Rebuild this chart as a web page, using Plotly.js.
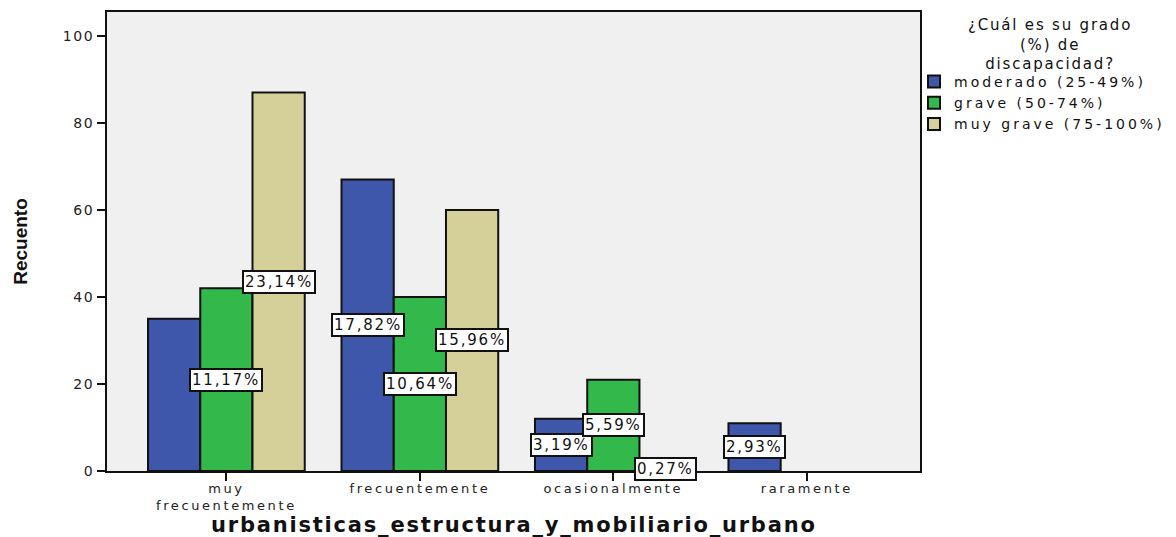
<!DOCTYPE html>
<html>
<head>
<meta charset="utf-8">
<script src="https://cdn.plot.ly/plotly-3.0.1.min.js"></script>
<style>
  html, body { margin: 0; padding: 0; background: #fff; }
  #chart { width: 1176px; height: 537px; }
  .xtick text { letter-spacing: 2.6px; }
  .ytick text { letter-spacing: 1.6px; }
  .legendtext { letter-spacing: 3px; }
  .annotation-text { letter-spacing: 1.8px; }
</style>
</head>
<body>
<div id="chart"></div>
<script>
const categories = ["muy frecuentemente", "frecuentemente", "ocasionalmente", "raramente"];
const tickLabels = ["muy<br>frecuentemente", "frecuentemente", "ocasionalmente", "raramente"];
const seriesNames = ["moderado (25-49%)", "grave (50-74%)", "muy grave (75-100%)"];
const legendTitle = "¿Cuál es su grado<br>(%) de<br>discapacidad?";
const xTitle = "urbanisticas_estructura_y_mobiliario_urbano";
const yTitle = "Recuento";
const moderado = [35, 67, 12, 11];
const grave = [42, 40, 21, null];
const muyGrave = [87, 60, 1, null];
const pctModerado = [null, "17,82%", "3,19%", "2,93%"];
const pctGrave = ["11,17%", "10,64%", "5,59%", null];
const pctMuyGrave = ["23,14%", "15,96%", "0,27%", null];
const colors = ["#3f57aa", "#33b94b", "#d5d09a"];

const seriesValues = [moderado, grave, muyGrave];
const seriesPct = [pctModerado, pctGrave, pctMuyGrave];

const W = 1176, H = 537;
const mL = 107, mR = 256, mT = 12, mB = 66;
const plotW = W - mL - mR, plotH = H - mT - mB;
const px2paperX = px => (px - mL) / plotW;
const px2paperY = py => (H - mB - py) / plotH;

const bargap = 0.19;
const barW = (1 - bargap) / 3;

const traces = seriesValues.map((vals, j) => ({
  type: "bar",
  name: seriesNames[j],
  x: categories,
  y: vals,
  marker: { color: colors[j], line: { color: "#111", width: 2 } },
  hoverinfo: "none"
}));

const annotations = [];
seriesValues.forEach((vals, j) => {
  vals.forEach((v, i) => {
    const t = seriesPct[j][i];
    if (t === null || v === null) return;
    annotations.push({
      x: i + (j - 1) * barW,
      y: v / 2,
      xref: "x", yref: "y",
      text: t,
      showarrow: false,
      bgcolor: "#ffffff",
      bordercolor: "#111",
      borderwidth: 2,
      borderpad: 1,
      font: { family: "DejaVu Sans, sans-serif", size: 15, color: "#111" }
    });
  });
});

// legend title
annotations.push({
  x: px2paperX(1050), y: px2paperY(44),
  xref: "paper", yref: "paper",
  xanchor: "center", yanchor: "middle",
  align: "center",
  text: legendTitle, showarrow: false,
  font: { family: "DejaVu Sans, sans-serif", size: 15, color: "#111" }
});

// x-axis title
annotations.push({
  x: 0.5, y: px2paperY(525),
  xref: "paper", yref: "paper",
  xanchor: "center", yanchor: "middle",
  text: "<b>" + xTitle + "</b>", showarrow: false,
  font: { family: "DejaVu Sans, sans-serif", size: 21, color: "#111" }
});

const layout = {
  width: W, height: H,
  margin: { l: mL, r: mR, t: mT, b: mB, autoexpand: false },
  paper_bgcolor: "#ffffff",
  plot_bgcolor: "#f0f0f0",
  barmode: "group",
  bargap: bargap,
  bargroupgap: 0,
  showlegend: true,
  legend: {
    x: px2paperX(914), xanchor: "left", y: px2paperY(66), yanchor: "top",
    font: { family: "DejaVu Sans, sans-serif", size: 14, color: "#111" },
    tracegroupgap: 0,
    itemwidth: 30,
    bgcolor: "rgba(0,0,0,0)"
  },
  xaxis: {
    type: "category",
    range: [-0.617, 3.585],
    tickmode: "array",
    tickvals: categories,
    ticktext: tickLabels,
    ticks: "outside", ticklen: 8, tickwidth: 2, tickcolor: "#111",
    ticklabelstandoff: -4,
    showline: true, linecolor: "#111", linewidth: 2, mirror: true,
    showgrid: false, zeroline: false, automargin: false,
    tickfont: { family: "DejaVu Sans, sans-serif", size: 13, color: "#222" }
  },
  yaxis: {
    range: [0, 105.5],
    tickvals: [0, 20, 40, 60, 80, 100],
    ticks: "outside", ticklen: 8, tickwidth: 2, tickcolor: "#111",
    showline: true, linecolor: "#111", linewidth: 2, mirror: true,
    showgrid: false, zeroline: false, automargin: false,
    tickfont: { family: "DejaVu Sans, sans-serif", size: 14, color: "#222" },
    title: { text: yTitle, standoff: 30,
             font: { family: "Liberation Sans Narrow, Liberation Sans, sans-serif", size: 19, color: "#111", weight: "bold" } }
  },
  annotations: annotations
};

Plotly.newPlot("chart", traces, layout, { displayModeBar: false, staticPlot: true });
</script>
</body>
</html>
